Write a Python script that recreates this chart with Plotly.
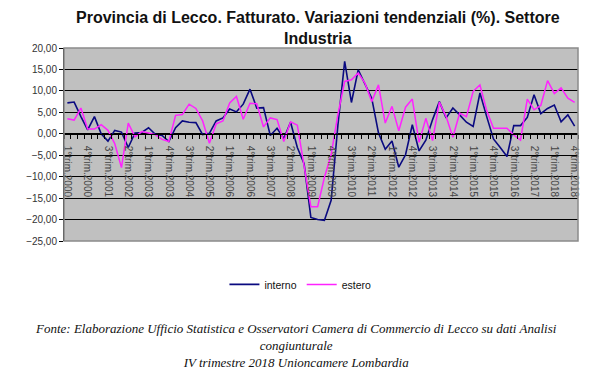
import plotly.graph_objects as go

# Quarters 1°trim.2000 .. 4°trim.2018
years = list(range(2000, 2019))
quarters = [f"{q}°trim.{y}" for y in years for q in range(1, 5)]

interno = [7.2, 7.4, 4.0, 0.9, 4.0, 0.0, -1.7, 0.8, 0.4, -3.2, 0.2, 0.3,
           1.4, -0.1, -0.4, -1.8, 1.4, 3.0, 2.7, 2.6, -0.2, 0.1, 3.0, 3.7,
           5.8, 5.1, 6.9, 10.4, 6.0, 6.1, -0.4, 1.3, -1.1, 2.7, -3.2, -7.0,
           -19.5, -20.0, -20.2, -15.5, 2.0, 16.9, 7.3, 14.9, 11.6, 8.3, 0.2, -3.6,
           -1.7, -7.8, -4.9, 2.1, -4.0, -1.5, 3.3, 7.5, 3.7, 6.0, 4.4, 2.7,
           1.7, 9.5, 4.0, -1.2, -3.2, -5.3, 1.9, 1.9, 3.8, 9.1, 4.7, 5.9,
           6.7, 2.8, 4.4, 1.8]

estero = [3.5, 3.2, 6.0, 1.1, 1.1, 2.1, 0.8, -2.3, -7.9, 2.5, -0.7, 0.5,
          0.2, -0.2, -1.3, -1.8, 4.3, 4.5, 6.9, 5.9, 3.0, -2.2, 2.3, 3.0,
          7.2, 8.7, 3.4, 7.1, 7.0, 1.6, 3.7, 3.3, -1.8, 2.8, 2.0, -7.0,
          -17.0, -17.0, -10.2, -4.9, 4.5, 12.2, 12.6, 14.2, 11.8, 7.5, 11.4, 2.5,
          6.4, 0.7, 6.2, 8.1, -2.0, 3.6, -1.6, 7.4, 4.0, -0.8, 4.8, 4.0,
          9.9, 11.4, 5.4, 1.3, 1.3, 1.3, -0.3, -1.5, 8.1, 5.6, 6.6, 12.4,
          9.4, 10.7, 8.3, 7.3]

title_text = "Provincia di Lecco. Fatturato. Variazioni tendenziali (%). Settore<br>Industria"
source_text = ("Fonte: Elaborazione Ufficio Statistica e Osservatori Camera di Commercio di Lecco su dati Analisi"
               "<br>congiunturale<br>IV trimestre 2018 Unioncamere Lombardia")

label_step = 3
tick_idx = list(range(0, len(quarters), label_step))
tick_text = [quarters[i] for i in tick_idx]

y_min, y_max = -25, 20
x = list(range(len(quarters)))

fig = go.Figure()
fig.add_trace(go.Scatter(x=x, y=interno, mode="lines", name="interno",
                         line=dict(color="#0A0A80", width=1.6)))
fig.add_trace(go.Scatter(x=x, y=estero, mode="lines", name="estero",
                         line=dict(color="#FF22FF", width=1.5)))

fig.update_layout(
    width=612, height=380,
    margin=dict(l=64, r=34, t=48, b=139),
    paper_bgcolor="white",
    plot_bgcolor="#C0C0C0",
    separators=",.",
    font=dict(family="Liberation Sans, Arial, sans-serif", size=10, color="#222"),
    showlegend=True,
    legend=dict(orientation="h", x=0.46, xanchor="center", y=-0.225, yanchor="middle",
                font=dict(size=10.5, color="#111"), bgcolor="rgba(0,0,0,0)",
                itemwidth=30, traceorder="normal"),
    shapes=[dict(type="rect", xref="paper", yref="paper", x0=0, x1=1, y0=0, y1=1,
                 line=dict(color="#8A8A8A", width=1.5), layer="above")],
    annotations=[
        dict(text=title_text, xref="paper", yref="paper", x=0.494, y=1.215,
             xanchor="center", yanchor="top", showarrow=False, align="center",
             font=dict(family="Liberation Sans, Arial, sans-serif", size=16, color="#111", weight="bold")),
        dict(text=source_text, xref="paper", yref="paper", x=0.451, y=-0.54,
             xanchor="center", yanchor="middle", showarrow=False, align="center",
             font=dict(family="Liberation Serif, Times New Roman, serif", size=13,
                       color="#111", style="italic")),
    ],
)

fig.update_xaxes(
    range=[-0.5, len(quarters) - 0.5],
    anchor="free", position=(0 - y_min) / (y_max - y_min),
    tickmode="array", tickvals=tick_idx, ticktext=tick_text,
    tickangle=90, tickfont=dict(size=10, color="#444"), ticklabelstandoff=9,
    showline=True, linecolor="black", linewidth=1,
    ticks="", showgrid=False, zeroline=False,
    minor=dict(ticks="outside", tickmode="linear", tick0=0.5, dtick=1,
               ticklen=4, tickcolor="black", showgrid=False),
)
fig.update_yaxes(
    range=[y_min, y_max], dtick=5, tickformat=".2f",
    showgrid=True, gridcolor="black", gridwidth=1,
    zeroline=True, zerolinecolor="black", zerolinewidth=1,
    showline=True, linecolor="black", linewidth=1,
    ticks="outside", ticklen=4, tickcolor="black",
    tickfont=dict(size=10, color="#333"),
)

fig.write_html("out.html", config={"displayModeBar": False},
               post_script="document.body.style.margin='0';")
